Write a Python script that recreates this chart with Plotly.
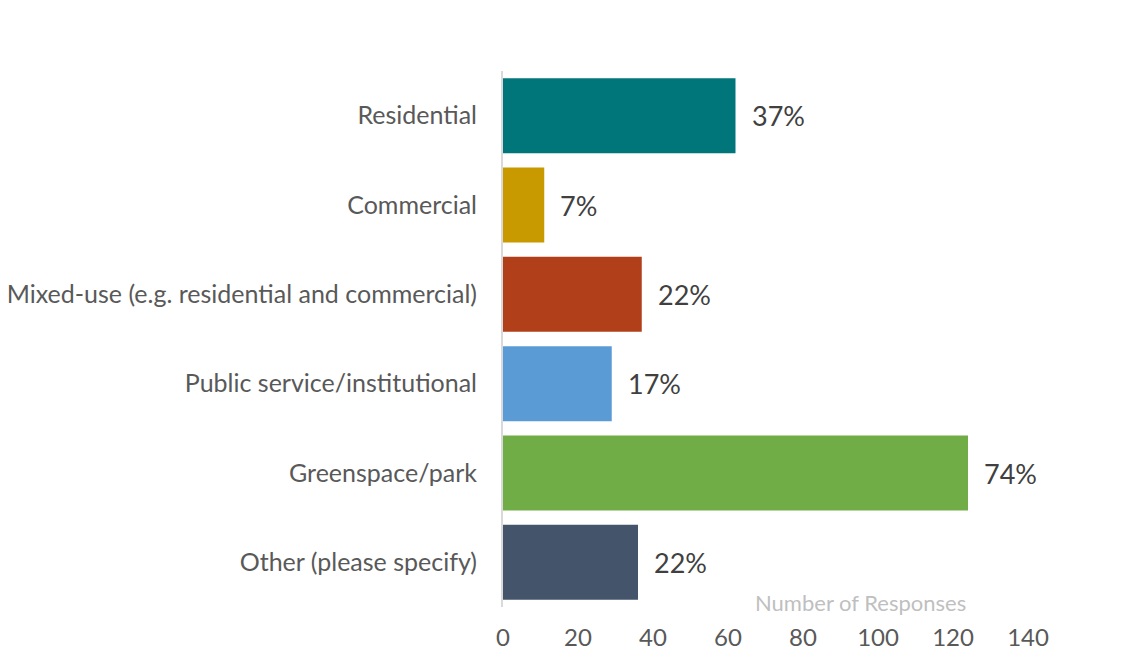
import plotly.graph_objects as go

categories = [
    "Residential",
    "Commercial",
    "Mixed-use (e.g. residential and commercial)",
    "Public service/institutional",
    "Greenspace/park",
    "Other (please specify)",
]
responses = [62, 11, 37, 29, 124, 36]
percent_labels = ["37%", "7%", "22%", "17%", "74%", "22%"]
bar_colors = ["#00767A", "#C99A00", "#B03F1A", "#5B9BD5", "#70AD47", "#44546A"]
x_ticks = [0, 20, 40, 60, 80, 100, 120, 140]

FONT = "Lato, 'Open Sans', sans-serif"

fig = go.Figure(
    go.Bar(
        x=responses,
        y=categories,
        orientation="h",
        marker=dict(color=bar_colors, line=dict(width=0)),
        hoverinfo="skip",
    )
)

# percentage labels just past the end of each bar
for cat, val, lab in zip(categories, responses, percent_labels):
    fig.add_annotation(
        x=val, y=cat, text=lab, showarrow=False,
        xanchor="left", xshift=14,
        font=dict(family=FONT, size=27, color="#404040"),
    )

fig.add_annotation(
    xref="paper", yref="paper", x=0.68, y=0.0,
    xanchor="center", yanchor="middle", yshift=5,
    text="Number of Responses", showarrow=False,
    font=dict(family=FONT, size=22, color="#BFBFBF"),
)

fig.update_layout(
    width=1140, height=651,
    margin=dict(l=503, r=112, t=71, b=44, autoexpand=False),
    paper_bgcolor="white", plot_bgcolor="white",
    bargap=0.16,
    showlegend=False,
    font=dict(family=FONT),
)
fig.update_xaxes(
    range=[0, 140], tickvals=x_ticks, showgrid=False, zeroline=False,
    showline=False, ticks="", ticklabelstandoff=14, automargin=False,
    tickfont=dict(family=FONT, size=24, color="#595959"),
)
fig.update_yaxes(
    autorange="reversed", showgrid=False, zeroline=False,
    showline=True, linecolor="#D9D9D9", linewidth=2,
    ticks="", ticklabelstandoff=19, automargin=False,
    tickfont=dict(family=FONT, size=25, color="#595959"),
)

fig.write_html("out.html")
